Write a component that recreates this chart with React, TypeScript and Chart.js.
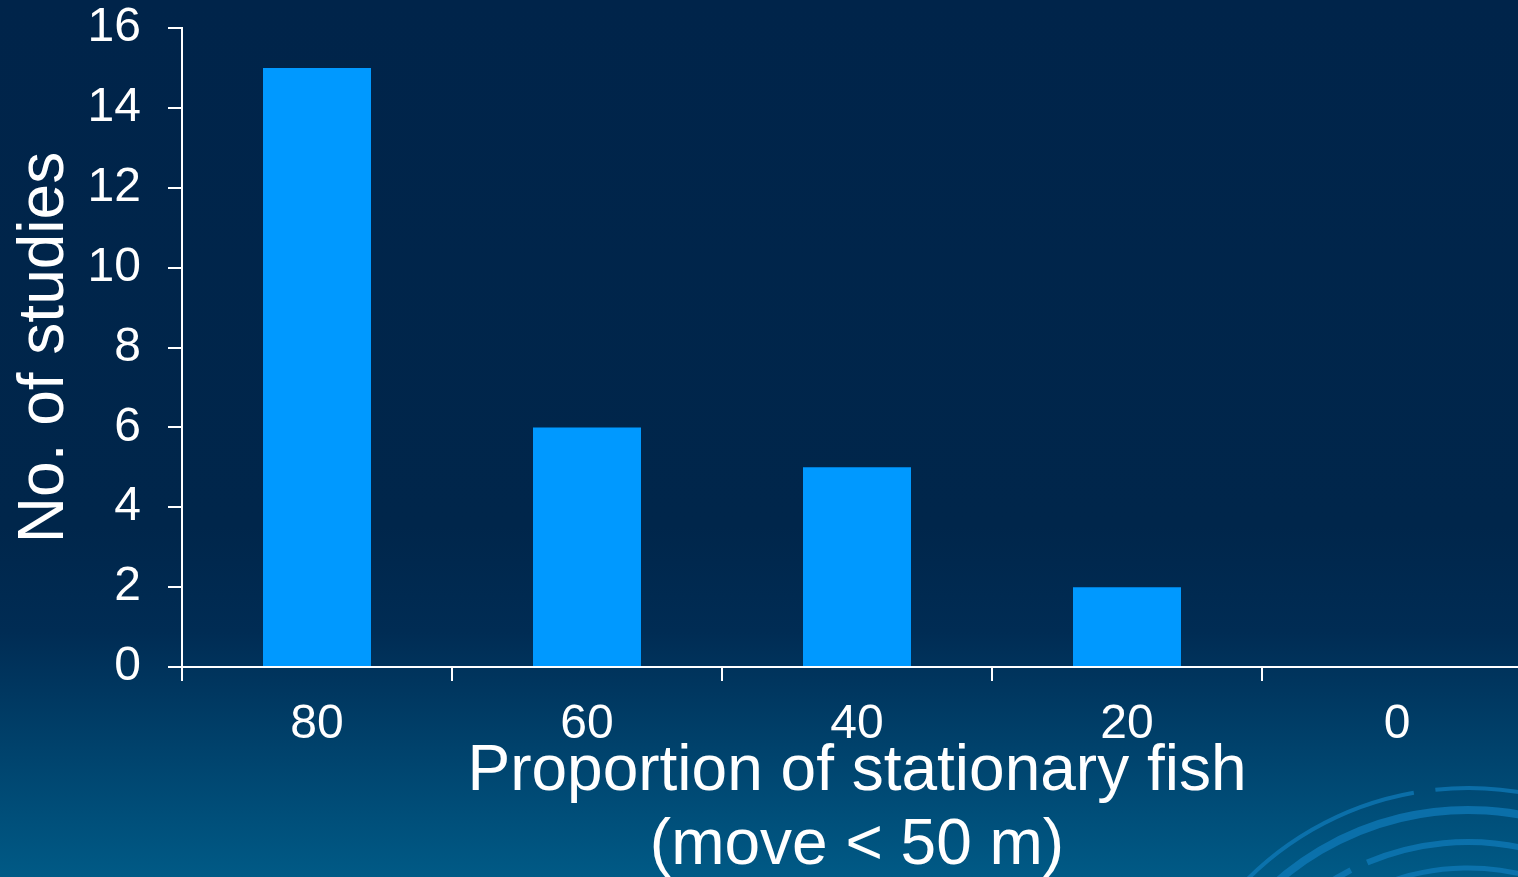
import React, { useEffect, useRef } from 'react';
import { Chart, registerables } from 'chart.js';

Chart.register(...registerables);

// ---- data ----
const categories: string[] = ['80', '60', '40', '20', '0'];
const studies: number[] = [15, 6, 5, 2, 0];
const yMin = 0;
const yMax = 16;
const yStep = 2;
const xTitle: string[] = ['Proportion of stationary fish', '(move < 50 m)'];
const yTitle = 'No. of studies';

// ---- layout ----
const W = 1532;
const H = 900;
const FONT = '"Liberation Sans", Arial, Helvetica, sans-serif';

const swirlArcs: number[][] = [
  // radius, width, startDeg, endDeg
  [312, 4, -140, -100],
  [312, 4, -96, -70],
  [290, 8, -137, -70],
  [258, 6, -124, -117],
  [258, 6, -113, -78],
  [258, 6, -76, -70],
  [232, 5, -112, -70],
];

const swirlPlugin = {
  id: 'swirl',
  beforeDraw(chart: any) {
    const ctx = chart.ctx;
    ctx.save();
    ctx.strokeStyle = 'rgba(15,125,190,0.7)';
    const cx = 1468;
    const cy = 1100;
    for (const [r, w, a0, a1] of swirlArcs) {
      ctx.lineWidth = w;
      ctx.beginPath();
      ctx.arc(cx, cy, r, (a0 * Math.PI) / 180, (a1 * Math.PI) / 180);
      ctx.stroke();
    }
    ctx.restore();
  },
};

export default function App() {
  const ref = useRef<HTMLCanvasElement | null>(null);

  useEffect(() => {
    if (!ref.current) return;
    const chart = new Chart(ref.current, {
      type: 'bar',
      data: {
        labels: categories,
        datasets: [
          {
            data: studies,
            backgroundColor: '#0099FF',
            borderWidth: 0,
            barPercentage: 0.4,
            categoryPercentage: 1.0,
          },
        ],
      },
      options: {
        responsive: false,
        animation: false,
        layout: { padding: { top: 0, left: 0, right: 0, bottom: 0 } },
        plugins: {
          legend: { display: false },
          tooltip: { enabled: false },
        },
        scales: {
          x: {
            type: 'category',
            offset: true,
            grid: {
              display: true,
              offset: true,
              drawOnChartArea: false,
              drawTicks: true,
              tickLength: 14,
              color: '#ffffff',
              lineWidth: 2,
            },
            border: { display: true, color: '#ffffff', width: 2 },
            ticks: {
              color: '#ffffff',
              font: { family: FONT, size: 48, lineHeight: 1.17 },
              padding: 16,
              maxRotation: 0,
              autoSkip: false,
            },
            title: {
              display: true,
              text: xTitle,
              color: '#ffffff',
              font: { family: FONT, size: 64, lineHeight: 1.156 },
              padding: { top: 0, bottom: 17 },
            },
            afterFit(scale: any) {
              scale.height = H - 667;
              scale.paddingLeft = 0;
              scale.paddingRight = 0;
            },
          },
          y: {
            min: yMin,
            max: yMax,
            ticks: {
              stepSize: yStep,
              color: '#ffffff',
              font: { family: FONT, size: 48, lineHeight: 1.17 },
              padding: 27,
            },
            grid: {
              drawOnChartArea: false,
              drawTicks: true,
              tickLength: 14,
              color: '#ffffff',
              lineWidth: 2,
            },
            border: { display: true, color: '#ffffff', width: 2 },
            title: {
              display: true,
              text: yTitle,
              color: '#ffffff',
              font: { family: FONT, size: 64, lineHeight: 1 },
              padding: { top: 13, bottom: 0 },
            },
            afterFit(scale: any) {
              scale.width = 182;
              scale.paddingTop = 28;
              scale.paddingBottom = 0;
            },
          },
        },
      },
      plugins: [swirlPlugin],
    } as any);
    return () => chart.destroy();
  }, []);

  return (
    <div
      style={{
        position: 'fixed',
        left: 0,
        top: 0,
        width: '100vw',
        height: '100vh',
        overflow: 'hidden',
        background:
          'linear-gradient(to bottom, #00244a 0%, #00264b 60%, #002c54 72%, #005a86 100%)',
      }}
    >
      <canvas
        ref={ref}
        width={W}
        height={H}
        style={{ display: 'block', width: W + 'px', height: H + 'px' }}
      />
    </div>
  );
}
